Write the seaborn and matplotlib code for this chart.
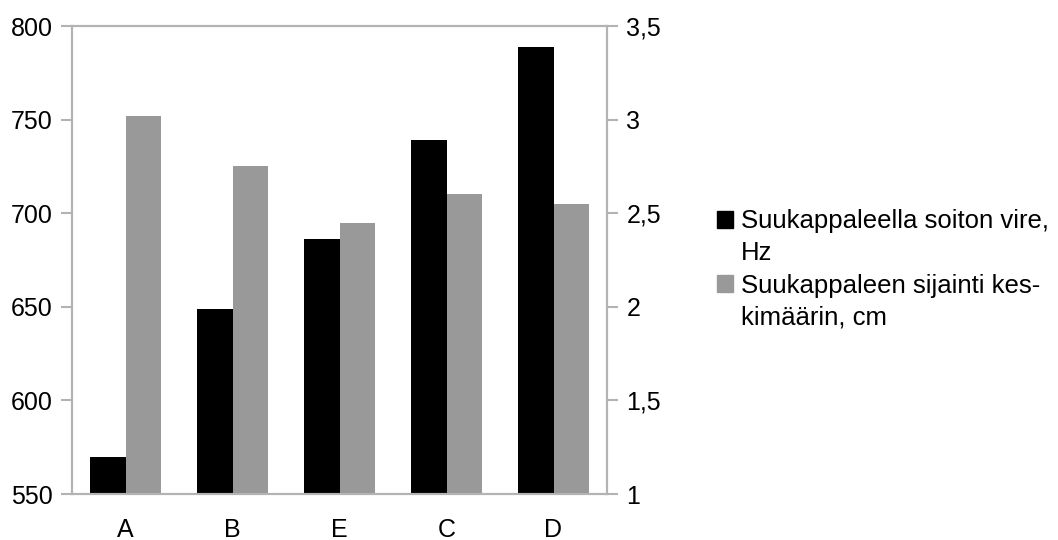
import pandas as pd
import matplotlib
matplotlib.use("Agg")
import matplotlib.pyplot as plt
import matplotlib.patches as mpatches
import seaborn as sns

# Data
categories = ["A", "B", "E", "C", "D"]
pitch_hz = [570, 649, 686, 739, 789]
position_cm = [3.02, 2.75, 2.45, 2.60, 2.55]
series_names = ["Suukappaleella soiton vire, Hz", "Suukappaleen sijainti keskimäärin, cm"]
legend_lines = [["Suukappaleella soiton vire,", "Hz"], ["Suukappaleen sijainti kes-", "kimäärin, cm"]]
left_ticks = [550, 600, 650, 700, 750, 800]
right_ticks = [1, 1.5, 2, 2.5, 3, 3.5]
right_labels = ["1", "1,5", "2", "2,5", "3", "3,5"]
colors = {series_names[0]: "#000000", series_names[1]: "#999999"}

sns.set_theme(style="white")
plt.rcParams['font.family'] = ['Liberation Sans', 'DejaVu Sans']
plt.rcParams['text.color'] = 'black'
plt.rcParams['xtick.labelcolor'] = 'black'
plt.rcParams['ytick.labelcolor'] = 'black'

df_hz = pd.DataFrame({"cat": categories, "value": pitch_hz, "series": series_names[0]})
df_cm = pd.DataFrame({"cat": categories, "value": position_cm, "series": series_names[1]})

fig = plt.figure(figsize=(10.58, 5.4), dpi=100)
ax1 = fig.add_axes([72 / 1058, 46 / 540, 535 / 1058, 468 / 540])
ax2 = ax1.twinx()

# each series on its own axis, dodged as if both were in one hue group
sns.barplot(data=df_hz, x="cat", y="value", hue="series", hue_order=series_names,
            order=categories, palette=colors, width=0.66, gap=0, saturation=1,
            dodge=True, linewidth=0, legend=False, ax=ax1)
sns.barplot(data=df_cm, x="cat", y="value", hue="series", hue_order=series_names,
            order=categories, palette=colors, width=0.66, gap=0, saturation=1,
            dodge=True, linewidth=0, legend=False, ax=ax2)

ax1.set_ylim(550, 800)
ax2.set_ylim(1, 3.5)
ax1.set_xlim(-0.5, 4.5)
ax1.set_yticks(left_ticks)
ax1.set_yticklabels([str(t) for t in left_ticks])
ax2.set_yticks(right_ticks)
ax2.set_yticklabels(right_labels)

# category boundaries as tick marks, labels in the middle
ax1.set_xticks(range(len(categories)))
ax1.set_xticklabels(categories)
ax1.set_xticks([i - 0.5 for i in range(len(categories) + 1)], minor=True)
ax1.tick_params(axis="x", which="major", length=0, pad=17, labelsize=18)
ax1.tick_params(axis="x", which="minor", length=8, width=1.5, color="#b3b3b3", direction="out")
ax1.tick_params(axis="y", length=8, width=1.5, color="#b3b3b3", pad=6, labelsize=18, direction="out", left=True)
ax2.tick_params(axis="y", length=8, width=1.5, color="#b3b3b3", pad=6, labelsize=18, direction="out", right=True)

for ax in (ax1, ax2):
    ax.set_xlabel("")
    ax.set_ylabel("")
    for s in ax.spines.values():
        s.set_color("#b3b3b3")
        s.set_linewidth(1.5)

# legend: square next to the first line of each wrapped label
handles = []
for name, lines in zip(series_names, legend_lines):
    handles.append(mpatches.Patch(color=colors[name], label=lines[0]))
    handles.append(mpatches.Patch(color="none", label=lines[1]))
fig.legend(handles=handles, loc="upper left", bbox_to_anchor=(707 / 1058, 1 - 199 / 540),
           frameon=False, fontsize=18.5, handlelength=0.62, handleheight=0.62,
           handletextpad=0.3, labelspacing=0.32, borderaxespad=0)

fig.savefig("out.png", dpi=100)
